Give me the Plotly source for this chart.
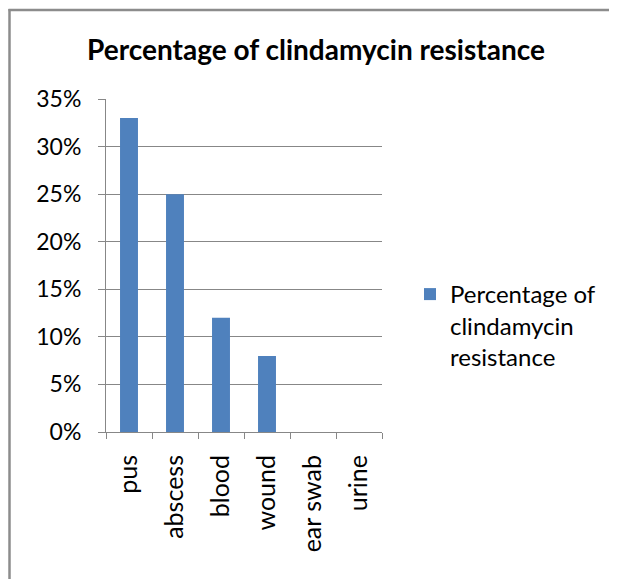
import plotly.graph_objects as go

categories = ["pus", "abscess", "blood", "wound", "ear swab", "urine"]
values = [0.33, 0.25, 0.12, 0.08, 0.0, 0.0]
series_name = "Percentage of<br>clindamycin<br>resistance"
title_text = "Percentage of clindamycin resistance"
y_ticks = [0, 0.05, 0.10, 0.15, 0.20, 0.25, 0.30, 0.35]

W, H = 617, 579
OFF = 8  # default page body margin
FW, FH = W - OFF, H - OFF  # figure size so that it fits the window
# plot area in page pixels
L, R, T, B = 106, 382, 99, 432

FONT = "Lato, Calibri, Carlito, sans-serif"
GRID = "#878787"

fig = go.Figure()
fig.add_trace(go.Bar(
    x=categories, y=values, name=series_name,
    marker=dict(color="#4F81BD", line=dict(width=0)),
    showlegend=True,
))

def px_x(px):
    return (px - L) / (R - L)

def px_y(py):
    return (B - py) / (B - T)

fig.update_layout(
    width=FW, height=FH,
    margin=dict(l=L - OFF, r=FW - (R - OFF), t=T - OFF, b=FH - (B - OFF), pad=0,
                autoexpand=False),
    paper_bgcolor="white", plot_bgcolor="white",
    font=dict(family=FONT, size=24, color="#000000"),
    bargap=0.61,
    title=dict(text="<b>" + title_text + "</b>", x=(316 - OFF) / FW, xanchor="center",
               y=1 - (50 - OFF) / FH, yanchor="middle",
               font=dict(family=FONT, size=28, color="#000000")),
    showlegend=True,
    legend=dict(x=px_x(410), y=px_y(272), xanchor="left", yanchor="top",
                font=dict(family=FONT, size=24), valign="top",
                itemwidth=30, bgcolor="rgba(0,0,0,0)", tracegroupgap=0),
    xaxis=dict(type="category", tickson="boundaries", ticks="outside",
               ticklen=6, tickcolor=GRID, tickwidth=1,
               showline=True, linecolor=GRID, linewidth=1,
               tickangle=-90, showgrid=False, zeroline=False,
               ticklabelstandoff=12,
               tickfont=dict(family=FONT, size=25), range=[-0.5, 5.5]),
    yaxis=dict(range=[0, 0.35], tickvals=y_ticks, tickformat=".0%",
               ticks="outside", ticklen=7, tickcolor=GRID, tickwidth=1,
               showline=True, linecolor=GRID, linewidth=1,
               showgrid=True, gridcolor=GRID, gridwidth=1, zeroline=False,
               ticklabelstandoff=12,
               tickfont=dict(family=FONT, size=23)),
    shapes=[
        dict(type="line", xref="paper", yref="paper",
             x0=px_x(9.5), x1=px_x(9.5), y0=px_y(9), y1=px_y(H + 20),
             line=dict(color="#8C8C8C", width=2.5)),
        dict(type="line", xref="paper", yref="paper",
             x0=px_x(8.5), x1=px_x(W + 20), y0=px_y(10), y1=px_y(10),
             line=dict(color="#8C8C8C", width=2.5)),
    ],
)

fig.write_html("out.html")
